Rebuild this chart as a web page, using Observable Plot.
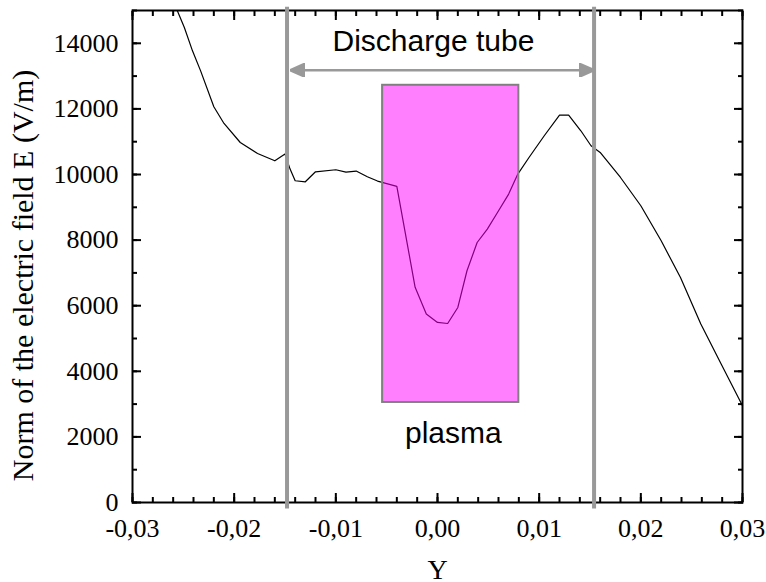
<!DOCTYPE html>
<html><head><meta charset="utf-8">
<script src="https://cdn.jsdelivr.net/npm/d3@7"></script>
<script src="https://cdn.jsdelivr.net/npm/@observablehq/plot@0.6"></script>
<style>body{margin:0;background:#fff}</style>
</head><body><div id="chart"></div>
<script>
// ---- data ----
const posY = [-0.0256,-0.0249,-0.0241,-0.0233,-0.0220,-0.0210,-0.0194,-0.0177,-0.0160,-0.0150,-0.0145,-0.0140,-0.0130,-0.0120,-0.0100,-0.0090,-0.0080,-0.0069,-0.0059,-0.0040,-0.0022,-0.0011,0.0000,0.0010,0.0020,0.0029,0.0039,0.0049,0.0059,0.0070,0.0079,0.0090,0.0105,0.0120,0.0129,0.0141,0.0151,0.0160,0.0180,0.0200,0.0220,0.0239,0.0259,0.0279,0.0300];
const fieldE = [15000,14480,13770,13160,12065,11556,10976,10641,10418,10623,10165,9809,9778,10083,10144,10074,10104,9931,9800,9640,6560,5744,5490,5458,5946,7065,7927,8336,8842,9403,10013,10519,11181,11812,11812,11333,10876,10672,9909,9047,7979,6860,5439,4220,2950];
const xTickValues = [-0.03,-0.02,-0.01,0,0.01,0.02,0.03];
const yTickValues = [0,2000,4000,6000,8000,10000,12000,14000];
const tubeWalls = [-0.0148, 0.0154];
const tubeArrowX = [-0.0143, 0.0152];
const tubeArrowE = 13180;
const plasmaX = [-0.0054, 0.0080];
const plasmaE = [3050, 12720];
const tubeLabel = "Discharge tube";
const plasmaLabel = "plasma";
const xTitle = "Y";
const yTitle = "Norm of the electric field E (V/m)";

const data = posY.map((x, i) => ({x, e: fieldE[i]}));
const xMinor = d3.range(-30, 31, 2).map(v => v / 1000);
const yMinor = d3.range(0, 15001, 1000);
const fmtX = v => (v < -1e-9 ? "-" : "") + Math.abs(v).toFixed(2).replace(".", ",");
const serif = "Liberation Serif, Times New Roman, serif";
const sans = "Liberation Sans, Arial, sans-serif";
const gray = "#999999";

function triMarker(color, context) {
  const ns = "http://www.w3.org/2000/svg";
  const m = document.createElementNS(ns, "marker");
  m.setAttribute("viewBox", "-15 -7 15 14");
  m.setAttribute("markerUnits", "userSpaceOnUse");
  m.setAttribute("markerWidth", 15);
  m.setAttribute("markerHeight", 14);
  m.setAttribute("refX", -2);
  m.setAttribute("refY", 0);
  m.setAttribute("orient", "auto-start-reverse");
  const p = document.createElementNS(ns, "path");
  p.setAttribute("d", "M0,0L-15,-6.6L-15,6.6Z");
  p.setAttribute("fill", color);
  m.appendChild(p);
  return m;
}

function build(marker) {
  return Plot.plot({
    width: 766, height: 582,
    marginLeft: 132, marginRight: 24, marginTop: 10, marginBottom: 80,
    style: {background: "white", overflow: "visible"},
    x: {domain: [-0.03, 0.03]},
    y: {domain: [0, 15000]},
    marks: [
      // labels
      Plot.axisX({anchor: "bottom", ticks: xTickValues, tickSize: 0, tickPadding: 16, tickFormat: fmtX, fontSize: 26, fontFamily: serif, fill: "black", label: null}),
      Plot.axisY({anchor: "left", ticks: yTickValues, tickSize: 0, tickPadding: 14, tickFormat: d => String(d), fontSize: 26, fontFamily: serif, fill: "black", label: null}),
      // inward ticks, all four sides
      Plot.axisX({anchor: "bottom", ticks: xTickValues, tickSize: -9, strokeWidth: 2, tickFormat: () => "", label: null}),
      Plot.axisX({anchor: "bottom", ticks: xMinor, tickSize: -5, strokeWidth: 2, tickFormat: () => "", label: null}),
      Plot.axisX({anchor: "top", ticks: xTickValues, tickSize: -9, strokeWidth: 2, tickFormat: () => "", label: null}),
      Plot.axisX({anchor: "top", ticks: xMinor, tickSize: -5, strokeWidth: 2, tickFormat: () => "", label: null}),
      Plot.axisY({anchor: "left", ticks: yTickValues, tickSize: -9, strokeWidth: 2, tickFormat: () => "", label: null}),
      Plot.axisY({anchor: "left", ticks: yMinor, tickSize: -5, strokeWidth: 2, tickFormat: () => "", label: null}),
      Plot.axisY({anchor: "right", ticks: yTickValues, tickSize: -9, strokeWidth: 2, tickFormat: () => "", label: null}),
      Plot.axisY({anchor: "right", ticks: yMinor, tickSize: -5, strokeWidth: 2, tickFormat: () => "", label: null}),
      Plot.frame({stroke: "black", strokeWidth: 2}),
      // curve
      Plot.line(data, {x: "x", y: "e", stroke: "black", strokeWidth: 1.2}),
      // plasma box
      Plot.rect([0], {x1: plasmaX[0], x2: plasmaX[1], y1: plasmaE[0], y2: plasmaE[1], fill: "#ff00ff", fillOpacity: 0.5, stroke: "#808080", strokeWidth: 2}),
      // tube walls
      Plot.ruleX(tubeWalls, {x: d => d, y1: -200, y2: 15100, stroke: gray, strokeWidth: 4}),
      // arrow
      Plot.link([0], {x1: tubeArrowX[0], x2: tubeArrowX[1], y1: tubeArrowE, y2: tubeArrowE, stroke: gray, strokeWidth: 2.5, markerStart: marker, markerEnd: marker}),
      // annotation text
      Plot.text([tubeLabel], {x: -0.0004, y: 13772, text: d => d, fontSize: 30, fontFamily: sans, fill: "black", textAnchor: "middle", lineAnchor: "bottom"}),
      Plot.text([plasmaLabel], {x: 0.00156, y: 1799, text: d => d, fontSize: 30, fontFamily: sans, fill: "black", textAnchor: "middle", lineAnchor: "bottom"}),
      // axis titles
      Plot.text([xTitle], {frameAnchor: "bottom", dy: 76, text: d => d, fontSize: 28, fontFamily: serif, fill: "black", textAnchor: "middle", lineAnchor: "bottom"}),
      Plot.text([yTitle], {frameAnchor: "left", dx: -109, dy: 19, rotate: -90, text: d => d, fontSize: 30, fontFamily: serif, fill: "black", textAnchor: "middle", lineAnchor: "middle"})
    ]
  });
}

let chart;
try { chart = build(triMarker); } catch (e) { chart = build("arrow"); }
document.getElementById("chart").appendChild(chart);
</script>
</body></html>
